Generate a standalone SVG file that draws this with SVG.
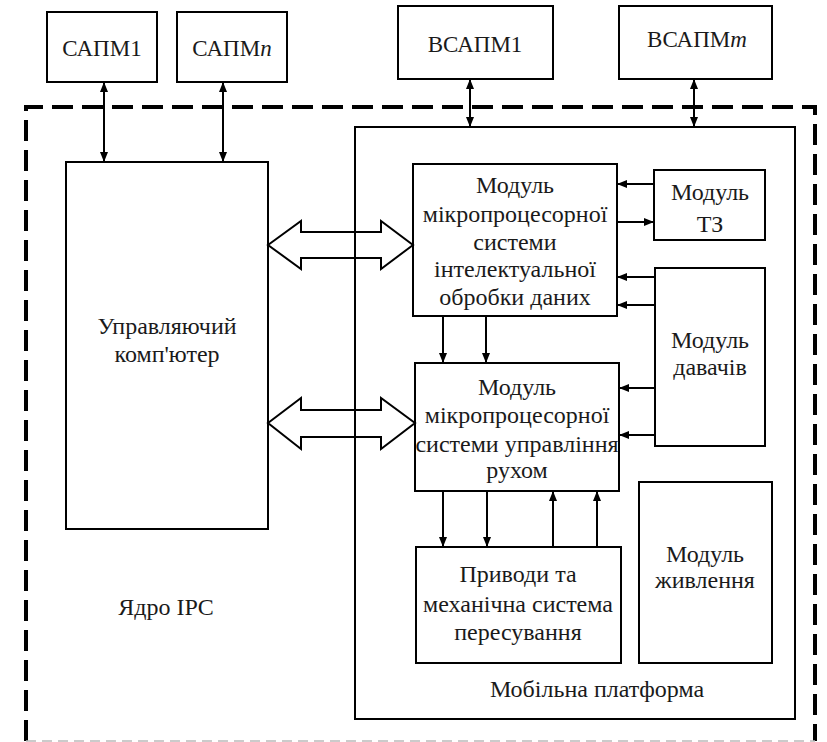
<svg xmlns="http://www.w3.org/2000/svg" width="827" height="742" viewBox="0 0 827 742">
<style>
.box{fill:none;stroke:#000;stroke-width:2}
.t{font-family:'Liberation Serif','Times New Roman','DejaVu Serif',serif;font-size:24px;fill:#1a1a1a;text-anchor:middle}
.h{font-size:23px}
.c{fill:none;stroke:#000;stroke-width:2}
.ba{fill:none;stroke:#000;stroke-width:2;stroke-linejoin:miter}
</style>
<defs>
<marker id="ah" viewBox="0 0 10 8" markerWidth="10" markerHeight="8" refX="10" refY="4" orient="auto-start-reverse" markerUnits="userSpaceOnUse">
<path d="M0,0 L10,4 L0,8 z" fill="#000"/>
</marker>
</defs>
<rect width="827" height="742" fill="#fff"/>

<g id="frame-ipc" font-family="Liberation Serif, serif">
<path d="M26,741 V107 H815 V741" fill="none" stroke="#000" stroke-width="4" stroke-dasharray="21 9"/>
<line x1="26" y1="741" x2="815" y2="741" stroke="#bbb" stroke-width="1.5" stroke-dasharray="10 6"/>
<text class="t" x="166" y="615">Ядро IPC</text>
</g>

<g id="mobile-platform" font-family="Liberation Serif, serif">
<rect class="box" x="355" y="127" width="440" height="592"/>
<text class="t" x="597" y="697">Мобільна платформа</text>
</g>

<g id="sapm1" font-family="Liberation Serif, serif">
<rect class="box" x="47" y="12" width="110" height="70"/>
<text class="t h" x="102" y="56">САПМ1</text>
</g>
<g id="sapmn" font-family="Liberation Serif, serif">
<rect class="box" x="177" y="12" width="110" height="70"/>
<text class="t h" x="232" y="56">САПМ<tspan font-style="italic">n</tspan></text>
</g>
<g id="vsapm1" font-family="Liberation Serif, serif">
<rect class="box" x="398" y="6" width="155" height="73"/>
<text class="t h" x="475" y="52">ВСАПМ1</text>
</g>
<g id="vsapmm" font-family="Liberation Serif, serif">
<rect class="box" x="619" y="6" width="153" height="73"/>
<text class="t h" x="697" y="47">ВСАПМ<tspan font-style="italic">m</tspan></text>
</g>

<g id="computer" font-family="Liberation Serif, serif">
<rect class="box" x="66" y="162" width="202" height="367"/>
<text class="t" x="167" y="334">Управляючий</text>
<text class="t" x="167" y="362">комп'ютер</text>
</g>

<g id="intel-module" font-family="Liberation Serif, serif">
<rect class="box" x="413" y="164" width="204" height="152"/>
<text class="t" x="515" y="193">Модуль</text>
<text class="t" x="515" y="222">мікропроцесорної</text>
<text class="t" x="515" y="250">системи</text>
<text class="t" x="515" y="277">інтелектуальної</text>
<text class="t" x="515" y="305">обробки даних</text>
</g>

<g id="motion-module" font-family="Liberation Serif, serif">
<rect class="box" x="415" y="363" width="204" height="128"/>
<text class="t" x="517" y="395">Модуль</text>
<text class="t" x="517" y="423">мікропроцесорної</text>
<text class="t" x="517" y="452">системи управління</text>
<text class="t" x="517" y="478">рухом</text>
</g>

<g id="tz-module" font-family="Liberation Serif, serif">
<rect class="box" x="654" y="170" width="111" height="70"/>
<text class="t" x="710" y="200">Модуль</text>
<text class="t" x="710" y="232">ТЗ</text>
</g>

<g id="sensors-module" font-family="Liberation Serif, serif">
<rect class="box" x="655" y="268" width="110" height="178"/>
<text class="t" x="710" y="348">Модуль</text>
<text class="t" x="710" y="375">давачів</text>
</g>

<g id="drives" font-family="Liberation Serif, serif">
<rect class="box" x="416" y="547" width="205" height="116"/>
<text class="t" x="518" y="582">Приводи та</text>
<text class="t" x="518" y="612">механічна система</text>
<text class="t" x="518" y="640">пересування</text>
</g>

<g id="power-module" font-family="Liberation Serif, serif">
<rect class="box" x="639" y="482" width="133" height="181"/>
<text class="t" x="705" y="562">Модуль</text>
<text class="t" x="705" y="588">живлення</text>
</g>

<g id="connectors">
<line class="c" x1="104" y1="82" x2="104" y2="162" marker-start="url(#ah)" marker-end="url(#ah)"/>
<line class="c" x1="223" y1="82" x2="223" y2="162" marker-start="url(#ah)" marker-end="url(#ah)"/>
<line class="c" x1="470" y1="79" x2="470" y2="127" marker-start="url(#ah)" marker-end="url(#ah)"/>
<line class="c" x1="694" y1="79" x2="694" y2="127" marker-start="url(#ah)" marker-end="url(#ah)"/>

<polygon class="ba" points="268,245 301,221 301,232 381,232 381,221 413,245 381,269 381,258 301,258 301,269"/>
<polygon class="ba" points="268,423 301,398 301,410 381,410 381,398 415,423 381,449 381,437 301,437 301,449"/>

<line class="c" x1="654" y1="184" x2="617" y2="184" marker-end="url(#ah)"/>
<line class="c" x1="617" y1="222" x2="654" y2="222" marker-end="url(#ah)"/>
<line class="c" x1="655" y1="277" x2="617" y2="277" marker-end="url(#ah)"/>
<line class="c" x1="655" y1="305" x2="617" y2="305" marker-end="url(#ah)"/>
<line class="c" x1="655" y1="388" x2="619" y2="388" marker-end="url(#ah)"/>
<line class="c" x1="655" y1="435" x2="619" y2="435" marker-end="url(#ah)"/>

<line class="c" x1="443" y1="316" x2="443" y2="363" marker-end="url(#ah)"/>
<line class="c" x1="486" y1="316" x2="486" y2="363" marker-end="url(#ah)"/>

<line class="c" x1="443" y1="491" x2="443" y2="547" marker-end="url(#ah)"/>
<line class="c" x1="487" y1="491" x2="487" y2="547" marker-end="url(#ah)"/>
<line class="c" x1="553" y1="547" x2="553" y2="491" marker-end="url(#ah)"/>
<line class="c" x1="597" y1="547" x2="597" y2="491" marker-end="url(#ah)"/>
</g>
</svg>
